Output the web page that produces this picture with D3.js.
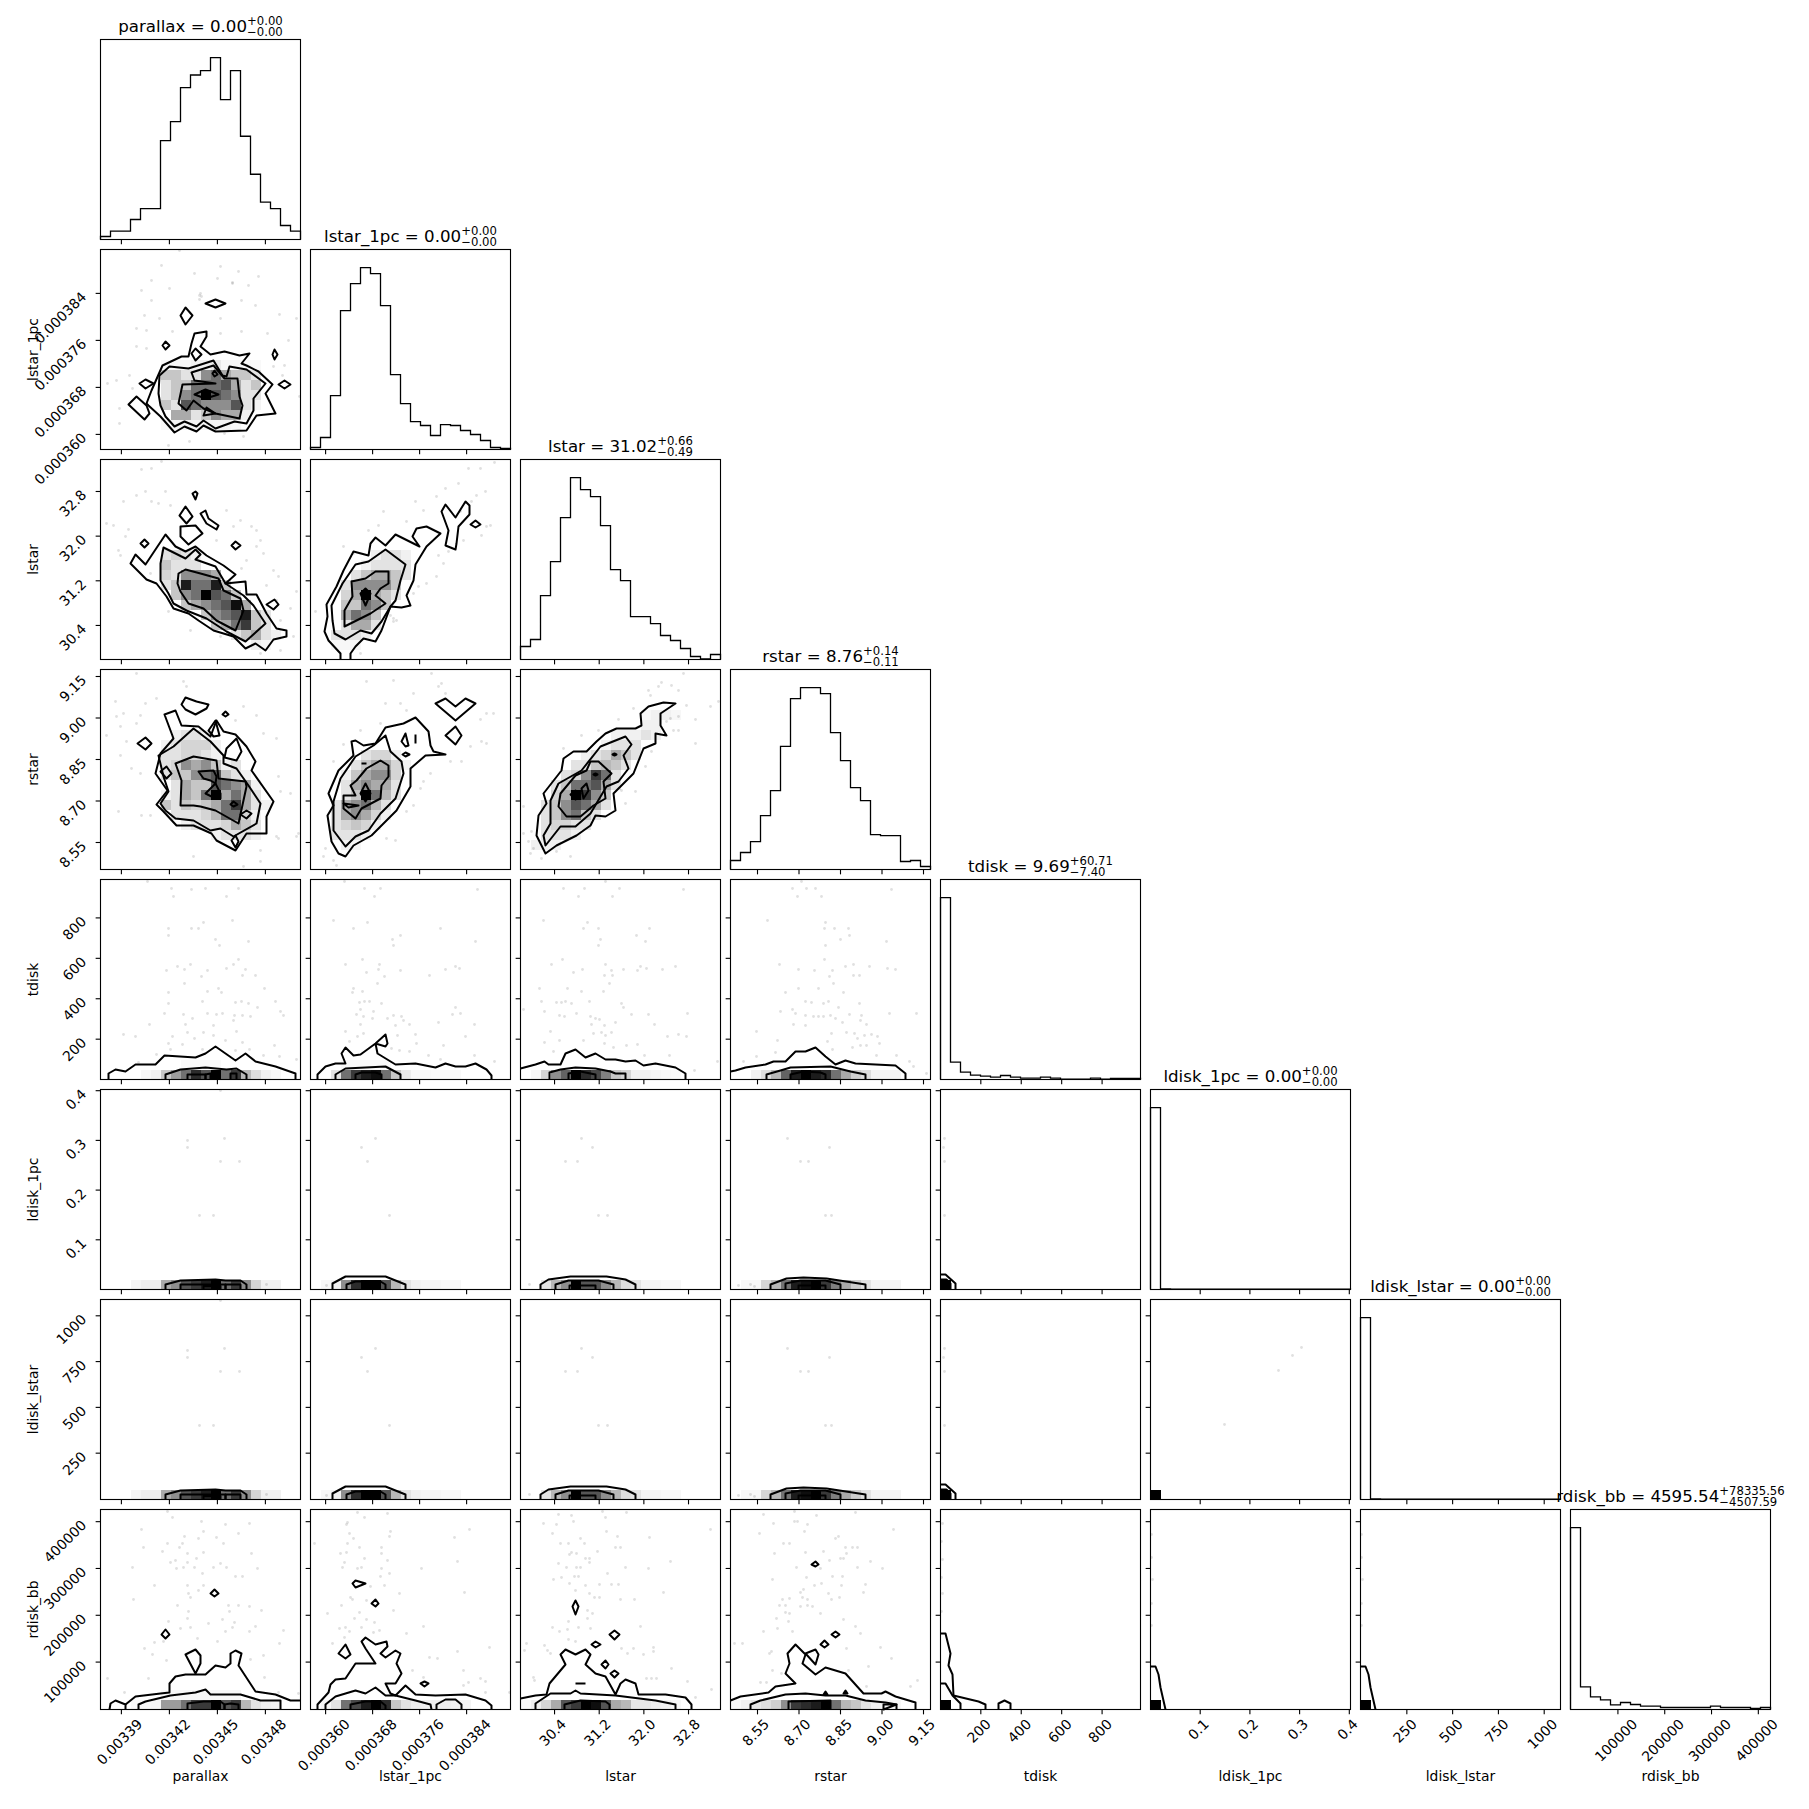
<!DOCTYPE html>
<html>
<head>
<meta charset="utf-8">
<script src="https://cdn.jsdelivr.net/npm/d3@7"></script>
<style>
  body { margin: 0; background: #fff; }
  text { font-family: "DejaVu Sans", sans-serif; fill: #000; }
</style>
</head>
<body>
<div id="chart"></div>
<script>
const names = ["parallax", "lstar_1pc", "lstar", "rstar", "tdisk", "ldisk_1pc", "ldisk_lstar", "rdisk_bb"];
const ranges = [
  [0.00337694, 0.00350194], [0.00035743, 0.00039147], [29.79, 33.373], [8.4524, 9.1753],
  [0.5, 990], [0, 0.4024], [-3, 1089], [-1300, 426000],
];
const tickValues = [
  [0.00339, 0.00342, 0.00345, 0.00348],
  [0.00036, 0.000368, 0.000376, 0.000384],
  [30.4, 31.2, 32.0, 32.8],
  [8.55, 8.7, 8.85, 9.0, 9.15],
  [200, 400, 600, 800],
  [0.1, 0.2, 0.3, 0.4],
  [250, 500, 750, 1000],
  [100000, 200000, 300000, 400000],
];
const tickLabels = [
  ["0.00339", "0.00342", "0.00345", "0.00348"],
  ["0.000360", "0.000368", "0.000376", "0.000384"],
  ["30.4", "31.2", "32.0", "32.8"],
  ["8.55", "8.70", "8.85", "9.00", "9.15"],
  ["200", "400", "600", "800"],
  ["0.1", "0.2", "0.3", "0.4"],
  ["250", "500", "750", "1000"],
  ["100000", "200000", "300000", "400000"],
];
const titleMedian = ["0.00", "0.00", "31.02", "8.76", "9.69", "0.00", "0.00", "4595.54"];
const titlePlus = ["0.00", "0.00", "0.66", "0.14", "60.71", "0.00", "0.00", "78335.56"];
const titleMinus = ["0.00", "0.00", "0.49", "0.11", "7.40", "0.00", "0.00", "4507.59"];

// diagonal histograms, 20 bins, heights
const histParallax = [9, 25, 25, 60, 93, 93, 297, 354, 456, 494, 507, 546, 420, 507, 310, 196, 112, 93, 42, 25];
const histLstar1pc = [6, 36, 162, 417, 498, 546, 528, 432, 225, 138, 84, 72, 42, 75, 72, 57, 45, 27, 6, 3];
const histLstar = [39, 60, 192, 294, 426, 546, 510, 489, 402, 270, 237, 129, 129, 108, 72, 57, 33, 9, 2, 15];
const histRstar = [27, 51, 84, 162, 237, 370, 513, 546, 546, 528, 411, 327, 246, 207, 105, 102, 102, 24, 27, 9];
const histTdisk = [546, 52, 22, 13, 10, 7, 12, 7, 4, 4, 7, 4, 1, 1, 1, 4, 1, 3, 3, 3];
const histLdisk1pc = [546, 2, 1, 1, 1, 1, 1, 1, 1, 1, 1, 1, 1, 1, 1, 1, 1, 1, 1, 1];
const histLdiskLstar = [546, 2, 1, 1, 1, 1, 1, 1, 1, 1, 1, 1, 1, 1, 1, 1, 1, 1, 1, 1];
const histRdisk = [546, 68, 38, 29, 14, 21, 15, 10, 10, 6, 6, 6, 6, 6, 10, 6, 6, 6, 3, 6];
const hists = [histParallax, histLstar1pc, histLstar, histRstar, histTdisk, histLdisk1pc, histLdiskLstar, histRdisk];

// 2d panels. everything below is in histogram bin units (0-20 along each axis):
// cells = [row, firstCol, [darkness 0-9, ...]], contours / points = flat x,y lists
const cells_1_0 = [[8,6,[.3,.3,.3,.5,.5,.8,.3,.3,.3,.2]],[7,6,[2,2,1,1,4,5,3,2,2,1]],[6,6,[1,2,2,5,5,5,6,3,1,2]],[5,6,[1,2,4,5,9,6,5,4,1,1]],[4,6,[2,1,6,5,4,4,4,6,1,.4]],[3,7,[3,3,1,2,4,3,3,.5]],[2,6,[.2,.4,.4,.4,.4,.4,.4,.3]]];
const contours_1_0 = [
  [4.6,4.6,5.1,5.9,6.2,8.4,8.1,9.3,8.8,9.3,9.1,10.6,9.4,11.6,10.6,11.8,10.6,11.3,10,10.3,11,9.5,12.4,9.8,13.9,9.4,14.9,9.6,14.1,8.6,14.6,8.4,15.8,7.8,17.2,6.5,16.5,5.6,17.5,3.6,15.6,3.4,14.6,1.9,11.5,1.8,10.3,2.4,9.6,1.8,8.4,2.3,7.4,1.7,6,3.3,4.8,4.4],
  [6,4.4,5.8,5.6,5.9,7.4,6.9,8.3,8.8,8.1,11.3,8.9,12.2,7.4,12.6,7.3,12.9,8.3,14.6,8,16.5,6.6,15.3,5.1,15.3,3.9,14.6,2.6,13.4,2.8,11.5,2.1,10.3,2.9,9.6,2.3,8.4,2.8,7.4,2.3,6.5,3.3],
  [7.8,4.6,8.2,6.5,11.5,6.6,9.4,6.9,9.1,7.7,11.3,8.4,12.4,7.1,13.7,7.1,13.9,5.3,14.2,4.4,13.9,3.1,11.5,3.6,10.3,4.1,9.3,4.9,8.6,3.9],
  [10.3,3.4,10.6,4.2,11.5,3.6],
  [9.4,5.5,10.5,6,11.8,5.5,10.5,5.1],
  [11.2,7.6,11.4,7.9,11.7,7.5,11.4,7.3],
  [10.5,14.6,11.5,15,12.5,14.6,11.5,14.2],
  [8,13.4,8.5,14.2,9.2,13.4,8.5,12.5],
  [6.2,10.4,6.5,10.8,6.9,10.4,6.5,10],
  [9.1,9.6,9.5,10.1,10.1,9.5,9.5,8.9],
  [17.2,9.5,17.4,10,17.7,9.5,17.4,9],
  [3.9,6.6,4.5,7,5.3,6.6,4.5,6.1],
  [17.8,6.5,18.4,6.9,19,6.5,18.4,6.1],
  [2.8,4.5,3.6,5.3,4.6,4.4,4.9,3.6,4.4,3],
];
const points_1_0 = [6.1,18.4,12,18.3,7.9,19.9,9.4,17.6,13.8,17.8,15.8,17.3,5.1,16.9,11.7,17.1,13.2,16.6,14.8,16.4,6.9,16.1,9.9,15.4,4.1,15.9,5.1,14.9,15.5,14.4,14.1,14.9,17.9,13.5,19.6,13.1,4.4,13.4,5.9,13.1,12,13.1,3.6,12.1,4.6,11.9,7.2,11.8,16.7,11.6,12,11.6,14.1,11.8,18.8,10.9,3.6,10.3,4.6,10.1,17.3,8.3,18.4,8.4,.7,6.6,1.6,6.9,2.9,7.4,3.2,6.1,1.9,4.1,1.9,2.6,18.2,7.4,19.9,5.3,6.8,.4,12.4,1.6,14.3,1.3,8.9,.8,10,15.6,10.1,15.3,13.2,16.7,9.9,15];

const cells_2_0 = [[10,6,[1,1.5,1,.5]],[9,6,[2,1,1,1]],[8,6,[1.5,1,4,4,4,3]],[7,6,[1,2,8,5,5,8,2]],[6,7,[2,4,5,9,6,5,2]],[5,8,[2,3,4,5,6,8.5,3]],[4,10,[2,4,5,6,8,2,1]],[3,11,[2,3,5,7,2,1]],[2,13,[1,2,3,1,.5]],[1,15,[.5,.3]]];
const contours_2_0 = [
  [3,9.6,3.5,10.5,4.5,9.5,6.5,12.5,7.5,11.3,8.5,10.8,9.5,11.3,10.6,10.4,12.3,9.4,13.5,8.5,12.5,7.6,14.5,7.8,14.6,6.5,15.6,6.5,16.6,4.6,17.6,3.1,18.6,2.9,18.6,2.3,17.3,2,16.5,.9,15.5,1.6,14.5,1.1,13.3,2.3,11.3,2.9,9.8,3.9,8.8,4.6,7.3,5.1,6.6,6.3,5.6,7.6,4.6,8],
  [6,9.6,6.3,11.2,8.5,10.1,9.5,11,10,10.5,9.5,10,11.5,9.3,12.5,7.6,14.3,6.4,15.3,5.4,16.5,3.6,14.5,1.8,12.6,2.8,10.6,4.1,8.6,4.9,7.3,5.6,6.8,6.6,6,7.9],
  [7.8,8.6,8.5,9,10,8.6,11.8,8.1,12.3,6.9,14,6.1,14.3,4.9,13.5,2.9,11.6,3.9,10.3,5.1,8.8,5.6,8,6.8,7.7,7.6],
  [9.2,16.6,9.5,16.8,9.7,16.6,9.5,16],
  [7.9,14.4,8.5,15.3,9.2,14.3,8.6,13.6],
  [10,14.6,10.5,14.9,10.8,14.1,11.8,13.4,11.6,13,10.6,13.6],
  [8,13.3,9.5,13.4,10.2,12.6,8.8,11.5,8,12.3],
  [4,11.6,4.4,12,4.8,11.6,4.4,11.2],
  [13.1,11.4,13.5,11.8,14,11.4,13.5,11],
  [16.6,5.5,17.4,6,17.8,5.5,17.3,5],
];
const points_2_0 = [4.1,19,5.1,19.1,6.1,19.8,3.6,16.4,4.5,16.8,6.5,16.8,2.3,15.8,5.8,15.6,5.1,15.8,7,15.4,.6,13.6,1.3,13.4,2.8,13,2.5,12.3,1.8,10.9,2,10.4,12.6,14.9,14,13.9,13.3,13.3,15.1,13.3,15.6,12.9,16,11.9,15.6,11.3,16.3,10.6,14.1,9.1,16.6,7.4,17.3,8.9,17.8,8.3,19.6,6.8,14.6,9.9,11.6,11.9,9,2.9,6.8,4.8,12,2.3,16,.6,18,.9,19,5.1,19.3,2.3,17.6,5.9,5,8.6,18,3.9];

const cells_2_1 = [[10,6,[.5,1,1,.5]],[9,5,[.5,1,1,1,1]],[8,4,[1,2,3,3,2,1]],[7,3,[1,4,4,4,4,2]],[6,3,[1.5,3,9,3,2,1]],[5,3,[2,2,5,4,2]],[4,3,[3,5,4,2]],[3,3,[1,3,3,1]],[2,2,[1,1,1,.5]],[1,2,[.3,.3,.3]]];
const contours_2_1 = [
  [3,0,3,.6,1.8,1.9,1.4,2.8,1.7,4.3,1.6,5.5,2.6,7.3,3.3,8.9,4.3,10.8,5.8,10.4,6,11.6,6.5,12.2,7.5,11.4,8.5,12.5,10.9,11.3,10.2,12.3,10.6,13.1,11.6,13.3,13,12.6,11.6,11.3,10.5,9.5,10.3,7.9,9.6,6.4,10,5.4,9.1,5.2,8,5.3,7.1,2.9,6.5,1.8,5.3,2.1,4.5,1.3,4,.6,4,0],
  [2.2,3.9,2.1,5.4,3.2,7.6,4.5,9.5,5.8,9.8,7.5,11,9.5,9.5,9,7.9,8.5,5.9,8,5.3,7.1,3.8,6.1,2.6,5,2.9,3.5,2,2.4,2.6],
  [3.4,4.9,4.2,6.3,4.1,7.8,5.5,8.1,6.5,8.8,7.8,8.8,7.8,7.6,7,7.1,6.5,6.4,7.5,5.6,6,4.6,3.4,3.3],
  [5.5,7.1,5,6.6,5.5,5.4,6,6.6],
  [13.1,14.8,13.5,15.5,14.5,14.2,15.5,15.8,15.9,15.4,15.9,14.5,14.8,13.3,14.6,11.6,14.5,11,13.5,11.4,13.8,12.9],
  [16,13.5,16.5,13.9,17,13.5,16.5,13.2],
];
const points_2_1 = [18.4,19.7,17,19.1,15.8,19.1,14.8,17.6,17.5,16.8,16.6,16.4,16.1,15.8,13.5,17.1,10.5,15.8,12.6,16.3,11.3,14.9,7.3,14.8,9.6,13.8,6.8,13.4,5.8,12.9,15,14.8,17.6,13.3,17.1,12.4,18,13.4,15.3,11.9,13.8,10.8,12.8,10.4,13.3,9.6,12.6,8.3,11.6,7.6,10.8,7.3,10.3,6.6,3.3,11.3,4.3,10.6,.5,4.8,8.3,4.1,8,4.4,5,.6,8.6,3.9,8.3,3.8];

const cells_3_0 = [[13,7,[.5,1,1,.5]],[12,6,[.5,1,1.5,1.5,1.5,.5]],[11,6,[1,1,1.5,1.5,1,.5]],[10,6,[1,1.5,4,3,4,2,.5,1]],[9,6,[1,2,2,4,5,6,2,1,.5]],[8,7,[1,3,2,2,6,5,4,3,.5]],[7,6,[.5,1,3,2,5,9,3,5,3,1]],[6,6,[2,1,2,1.5,2,3,5,7,3,1,.5]],[5,7,[1,1,1,1.5,2.5,5,5,1.5,.5]],[4,8,[.5,1,1,1,1.5,3,2,1]],[3,11,[.5,1,1,1,.5]]];
const contours_3_0 = [
  [6.4,15.5,7.5,15.9,8.1,14.4,9.8,14.3,11,13.3,11.6,14.9,12.3,13.8,13.5,13.5,14.6,12.3,15.5,10.8,15.1,9.9,17.3,6.8,16.6,5.3,16.6,3.6,14.6,3.6,13.5,1.9,11.6,2.9,11.1,3.6,9.3,4.4,7.6,4.4,6.3,5.8,5.6,6.5,6.7,7.9,5.5,9.6,6,11.6,7.3,13.1],
  [6,6.6,6.8,7.8,6.3,9.3,5.8,11.4,7.3,12.3,9.3,14.1,11,12.8,12.3,11.4,12.3,10.6,13.6,10.1,14.8,8.4,16,6.6,15.6,4.6,13.3,3.3,12,4.1,11,3.9,9.3,4.9,7.5,5.1,6.5,5.9],
  [7.5,10.6,9.3,11.3,11.6,10.9,11.8,9.1,14.5,8.8,14.6,8.3,13.8,4.6,11.5,5.9,10,6.3,9.3,6.4,8,6.4,8.1,8.9],
  [9.8,9.8,11.3,9.9,11.6,9.3,11.5,8.6,11,8.9,10.3,9.1],
  [10.5,7.6,11.5,8.6,12,7.6,12,7.1,11.5,7.1],
  [13,6.5,13.3,6.8,13.7,6.5,13.3,6.3],
  [8.1,16.5,8.5,17.2,9.6,16.8,10.8,16.5,10.6,16.1,9.5,15.5,8.5,16],
  [12.2,15.5,12.5,15.8,12.8,15.5,12.5,15.3],
  [3.7,12.6,4.5,13.2,5.1,12.6,4.5,12],
  [10.8,13.9,11.5,14.9,11.9,13.4,11.3,13.3],
  [12.6,12.1,13.6,13.1,14.1,11.8,13.6,10.9,12.4,11.2],
  [6,9.8,6.6,10.3,7.1,9.6,6.6,9.1],
  [14,5.5,14.6,5.9,15.1,5.6,14.6,5.1],
  [13.1,2.9,13.5,3.4,13.8,2.8,13.5,2.2],
];
const points_3_0 = [3.6,19.6,8.3,18.8,8.6,18.3,5.6,17.1,4.5,16.6,1.5,16.8,2.3,15.6,4,15.4,1.6,15.3,2,14.3,3.6,14.6,.6,13.4,2.6,12.8,2,11.4,3.1,10.1,4,9.6,4.1,5.4,5,5.4,1.8,5.8,14.3,16.3,13.5,14.9,15.6,15.4,16.3,13.6,17.6,13.1,17.8,9.3,18,7.8,19,7.6,17.6,3.3,17.8,3.1,19.6,3.3,16,1.9,9.3,1.3,16,.8,14.3,.3,19.8,3.6];

const cells_3_1 = [[11,5,[1,1.5,1.5,.5]],[10,4,[1,2,3,3,1.5,.5]],[9,3,[.5,2,3,4,4,1.5]],[8,3,[1,3,4,3,3,1]],[7,3,[1,2,9,5,2.5,1]],[6,2,[1,3,4,5,2.5,1]],[5,2,[1,3,4,3,1.5,.5]],[4,2,[1,1.5,2,1.5,.5]],[3,2,[1,1,1,.5]],[2,3,[.5,.3]]];
const contours_3_1 = [
  [1.8,7.6,2.8,9.9,4.3,11.4,4.1,12.8,4.5,12.9,5.3,12.4,6.5,12.6,7.5,14.2,9.3,14.6,10.5,15.2,11.8,13.8,12,12.4,12.3,11.8,13.5,11.5,11.5,11.4,10,10.1,10,8.3,8.6,5.9,7.3,4.6,6.1,3.4,4.3,2.4,3.5,1.3,2.8,1.6,2.1,2.8,1.7,5.4,2.3,6.4],
  [2.3,6.8,3,9.1,4.5,11.3,6.3,12.4,7.5,13.4,8,11.8,9.1,10.8,9.3,9.6,8.5,7.1,7,5.6,5.8,3.9,4.5,3.3,3.5,2.3,2.3,3.9],
  [4,8.4,4.6,8.9,5.6,10.1,7,10.9,7.8,10.4,7.8,9.3,7.1,8.4,7,7.1,5.1,6.1,4.5,5.1,3.3,6.1,3.3,7.4,4.5,7.4],
  [3.3,6.6,4.8,6.4,3.8,6.2],
  [5.5,8.6,6,7.6,5.5,6.8,5,7.6],
  [12.5,16.6,13.5,17.1,14.5,16.3,15.5,17.1,16.5,16.6,14.5,14.9],
  [13.5,13.4,14.5,14.3,15.1,13.4,14.5,12.5],
  [9.1,12.8,9.5,13.6,9.8,12.4,9.5,12.3],
  [10.5,13.5,10.5,12.6],
  [9.2,11.5,9.5,11.7,9.9,11.5,9.5,11.3],
  [5.1,10.6,5.6,10.6],
];
const points_3_1 = [5.6,18.8,8.3,18.9,12.1,19.6,12.8,18.3,13.1,18.6,10.3,17.6,13.5,17.6,7.5,16.6,9,16.6,9.6,15.9,17.6,15.6,17,15,18.3,15.6,16,12.3,17.1,12.8,17.6,12.6,14,10.8,15.1,10.8,7,14.6,5,13.9,3.3,12.5,2.3,10.8,12,9.6,11.3,8.8,11,8.1,10.3,6.4,9.6,5.8,1.5,2.1,1.3,1.3,2.3,.9,2.6,.4,7.6,3.1,8.5,2.9];

const cells_3_2 = [[15,12,[.3,.5,.5,.3]],[14,12,[.5,.5]],[13,9,[.5,.5,.5,1,.5]],[12,8,[.5,1,1,1]],[11,6,[.5,1,1.5,3,2,1]],[10,5,[1,1,2,2.5,2,1]],[9,4,[1,1.5,4,7,5,1]],[8,3,[1,2,5,5,6,3,1]],[7,3,[1.5,3,9,7,4,2]],[6,2,[1,2,4,6,5,3,1]],[5,2,[1,2,4,5,2,1]],[4,2,[1,1.5,1.5,1,1]],[3,2,[1,1,1,.5]],[2,1,[.5,.5,.5]]];
const contours_3_2 = [
  [15.5,16.6,14.3,16.7,12.8,16.3,12,15.6,12.1,14.4,11.5,14.1,9.6,14.1,8.5,13.6,7.6,12.8,6.6,11.8,5.3,11.8,4.3,11.1,4.1,9.9,2.3,7.6,2.6,6.6,1.8,5.4,1.6,3.4,2.5,1.6,3.6,2.4,5.6,3.4,7,4.4,7.5,5.4,8.5,5.3,9.5,5.9,9.3,7.6,11.3,9.6,12.3,12.1,13.5,12.6,13.5,13.6,14.6,13.4,14,14.4,14,15.6],
  [3,4.6,3,6.9,3.8,8.6,6.1,9.9,8,12.3,10.5,13.3,11.1,12.5,10.3,11.4,10.8,10.1,9.8,8.8,8.6,8.3,7,5.6,5.5,4.3,4,4.3,2.5,2.4,2.3,3.4],
  [4,7.6,5.5,9.4,6.6,9.9,7,10.8,7.8,10.8,9.1,9.6,8.3,8.8,8.5,7.1,7.3,6.4,6,5.3,4.6,5.3,3.8,6.3],
  [5,7.5,5.5,7.9,6,7.6,5.5,7],
  [6.1,8.1,6.6,8.6,6.8,7.9,6.3,7.1],
  [9.2,11.5,9.4,11.6,9.6,11.5,9.4,11.4],
  [7.3,9.5,7.5,9.6,7.7,9.5,7.5,9.4],
];
const points_3_2 = [16.3,19.6,14.1,18.7,15.1,18.4,12.8,17.9,15.8,17.9,13.8,18.3,13,17.4,16.6,16.4,15.8,15.3,15,15.1,17.5,15,19,16.3,19.8,16.8,15.3,13.9,15.8,13.9,17.5,12.6,14.6,14.8,11.3,16.1,9.8,15,7.8,13.9,6.1,13.4,4.3,12.1,13.1,11.8,12.5,10.3,11.5,7.8,10.5,6.6,10.1,7.9,.3,6.3,1.1,3.8,.8,2.8,1.3,2.1,.3,3.6,1,1.6,5,1.3,3.6,1.8,2.1,1.1];

const cells_4_0 = [[1,8,[.2,.2,.2,.2]],[0,4,[.3,.5,2,3.5,5,7.5,6,9,5,7,2.5,1.2,.5,.3]]];
const contours_4_0 = [
  [.8,0,.8,.6,1.5,1,2.5,.8,3.5,1.5,5.5,1.5,6.4,2.4,9.5,2.2,10.5,2.6,11.5,3.3,13.5,1.9,14.5,2.6,15.5,1.8,17.5,1.3,19.5,.6,19.5,0],
  [6.5,0,6.5,.5,8,1,10.5,1.2,12.6,1,13.6,1.1,14.6,.5,14.6,0],
  [8.7,0,8.7,.5,10.5,.5,10.5,0],
  [10.5,0,10.5,.5,11,.6,11,0],
  [13,0,13,.6,13.6,.6,13.6,0],
];
const points_4_0 = [4.7,19.8,7.1,19.1,9.1,19,10.5,19.1,13.8,19.1,7.3,18.3,12.6,18.3,13.2,15.9,10.3,15.7,6.8,15.1,9.1,15.1,9.8,15.1,6.8,14.4,11.5,14,11.9,13.4,14.8,13.8,13.8,12,13.3,11.5,12.6,11.1,6.6,10.9,7.7,11.3,8.4,11,9,11.5,10.7,10.9,14.5,11,10.1,10.3,14.2,10.4,15.5,10.4,8.4,9.6,16.4,9.1,6.8,8.7,10.7,8.8,11.8,9.1,12.1,8.7,6.8,7.6,10.2,7.8,13.5,7.7,14.1,7.8,14.8,7.6,15.7,7.2,17.5,7.8,18,6.8,18.3,6.4,6.4,6.6,8.3,6.5,10.7,6.6,11.6,6.5,12.2,6.6,13.4,6.4,14.2,6.4,15,6.3,9.2,6.1,13.3,5.9,4.9,5.5,8.5,5.5,11.3,5.4,2.3,4.5,3.5,4.3,8.7,4.7,10.3,4.7,13.6,4.8,7.2,4.3,9.4,4.1,11.3,4.4,12.5,3.9,14.2,3.7,17.4,3.4,6.8,3.6,8.2,3.5,7,3,10.2,3,13.5,2.9,14.9,3,5.6,2.5,16.3,2.4,17.9,2.3,19.6,2,3.8,1.7];

const cells_4_1 = [[1,3,[.2,.2,.2,.2,.2]],[0,2,[1,5,7,8,8.5,5,2,.7,.3,.3,.2,.2,.2]]];
const contours_4_1 = [
  [.7,0,.7,.5,1.5,1.3,2.5,1.6,3.5,1.6,3.1,2.6,3.5,3.2,4.3,2.4,5,2.5,6.5,3.6,7.5,4.5,7.7,3.6,7.5,3.3,6.5,3.6,6.7,2.6,8.5,1.5,10.5,1.6,12.5,1.2,13.5,1.6,14.5,1.3,15.5,1.3,16.5,1.6,17.6,1,18.1,.4,18.1,0],
  [2.5,0,2.5,.5,3.5,1.1,7.5,1.3,9,.5,9,0],
  [4.5,0,4.5,.5,5.1,.7,6.5,.7,7.1,.5,7.1,0],
];
const points_4_1 = [3.4,19.8,5.4,19.1,7,19.1,6.4,18.3,16.7,19,2.3,15.9,5.7,15.7,4.3,15.1,13,15.1,9,14.4,8.2,14,8.3,13.4,16.5,13.8,5.2,12,3.5,11.5,6.9,11.5,6.8,11,9,10.9,5.6,10.7,7.4,10.3,11.9,10.4,13.5,11,14.5,11.3,14.9,11.1,4.3,9.1,4.2,8.7,5.2,8.8,6.7,9.6,4.9,7.7,5.4,7.8,5.9,7.8,7.1,7.6,5,7,14.5,7.2,4.6,6.5,5.3,6.3,6.3,6.8,6.2,6.1,7.7,6.1,8.3,6.4,9.1,6.3,9.3,5.9,14.2,6.5,15,6.6,5,5.5,8.5,5.4,9.9,5.5,12.8,5.7,16.4,5.5,3.5,4.8,5.3,4.6,4.7,4.3,8.7,4.4,10.5,4.5,15.5,4.3,3.9,3.8,8.1,3.1,10.6,3.6,13.3,3.4,8.9,2.9,9.9,2.8,11.8,2.4,16.4,2.4,13,2,18.4,1.8];

const cells_4_2 = [[0,1,[.3,1.5,4,5.5,9,7.5,6.5,4.5,2,1.5,.5,.5,.4,.3,.2]]];
const contours_4_2 = [
  [0,1.1,1.5,1.5,2.4,1.8,2.8,1.5,4,1.5,4.5,2.6,5.5,3,6.5,2.2,7.5,2.6,8.5,2,9.5,2,10.5,1.8,11.5,1.9,12.3,1.4,13.5,1.6,15.5,1.2,16.5,.6,16.5,0],
  [2.9,0,2.9,.7,4,1,5.5,1.2,7.5,1.1,9,.8,9.5,.6,10.5,.6,10.5,0],
  [4.8,0,4.8,.6,6,.8,7.5,.5,7.5,0],
];
const points_4_2 = [4.3,19.1,6.4,19.1,9.9,19.1,8.5,19.8,16.3,19,5.8,18.3,9.2,18.3,2.3,15.9,6.7,15.7,6.3,15.1,7.8,15.1,12.9,15.1,11.6,14.4,8,14,7.8,13.4,12.5,13.8,4.2,12,3.1,11.5,8.5,11.5,6.2,11,5.3,10.7,9.1,10.9,10.3,11,11.7,10.9,12,11.3,12.6,11.1,14.2,11,15.5,11.3,8.4,10.4,9.2,10.4,1.9,9.1,4.7,9.1,6.1,8.8,8.3,8.8,8.9,9.6,2.1,7.8,3.6,7.7,4.1,7.7,4.5,7.8,5.1,7.6,6.9,7.8,10.1,7.6,10.3,7.2,.3,7,2.4,6.8,3.9,6.4,4.4,6.3,5.6,6.6,7,6.3,7.5,6.1,7.9,6,11.1,6.5,12.8,6.5,16.7,6.6,7.1,5.5,8.4,5.4,9.5,5.7,13.4,5.5,3,4.8,7.3,4.6,8.1,4.7,9.1,4.7,8.5,4.4,14.7,4.3,15.8,4.5,16.6,4.3,2.4,3.7,3.9,3.9,6.3,3.9,8.4,3.6,10.6,3.4,11.7,3.5,9.3,3.2,3.3,2.8,12.4,2.4,14.9,2.4,19.7,1.8,17.4,.9];

const cells_4_3 = [[0,2,[.5,1.2,2.5,5.5,8,9,8,7.5,5,3,1.7,1.2,.4,.4,.4]]];
const contours_4_3 = [
  [0,.8,.5,.9,1.5,1.2,3.5,1.5,4.3,1.8,5.5,1.8,6.5,2.8,7.5,2.8,8.5,3.2,9.5,2.3,10.5,1.5,11.5,1.9,12.5,1.6,16.5,1.4,17.5,.6,17.5,0],
  [3.6,0,3.6,.5,5,.9,6,1.2,10,1.3,12,.8,13.5,.5,13.5,0],
  [6,0,6,.5,7.3,.8,9,.7,9.5,.5,9.5,0],
];
const points_4_3 = [6.2,19.1,7.6,19.1,8.5,19.1,7.1,19.8,6.7,18.3,9.1,18.3,16.1,19,3.7,15.9,9.5,15.7,9.4,15.1,10.4,15.1,11.8,15.1,11.9,14.4,11,14,9.5,13.4,15.6,13.8,9.4,12,4.9,11.5,12.3,11.5,11.5,11.3,13.9,11.3,6.8,11,8.4,10.9,10.2,10.9,15.7,11.1,16.5,11,9.9,10.3,12.3,10.4,12.9,10.4,10.3,9.6,6.8,9.1,8.8,9.1,5.5,8.7,11.3,8.7,7.5,7.8,8.1,7.7,9.3,7.6,9.8,7.8,12.9,7.6,10.8,7.2,6.2,7,5,6.8,6.5,6.6,7.5,6.4,8.3,6.3,8.8,6.3,9.3,6.3,10,6.4,10.5,6.1,11.9,6.5,13.1,6.4,15.9,6.6,18.6,6.6,6.3,5.5,7.5,5.4,11.2,5.7,13,5.9,13.6,5.5,2.6,4.8,10.1,4.6,11.6,4.7,12.4,4.6,13.4,4.4,14.1,4.5,14.7,4.3,12.7,4.1,4.7,3.9,9.7,3.8,14.9,3.6,13,3.4,13.6,3.4,10.2,3,12.2,3.2,16.6,2.4,14.6,2.4,4.5,2.7,2.6,2.3,17.9,1.8,18.3,1.3,19.6,.6,1.3,1.8];

// the two ldisk rows look the same, so they share one set of arrays
const cells_5_0 = [[0,3,[.4,.6,.6,3,4,6,7,8,9,5,7,4,1.5,.5,.5]]];
const contours_5_0 = [
  [6.5,0,6.5,.5,8,.9,11.5,1,12.5,.9,14,.9,14.6,.5,14.6,0],
  [8,0,8,.5,12.5,.5,12.5,0],
  [12.5,0,12.5,.5,14,.5,14,0],
  [10.3,0,10.3,.35,12,.35,12,0],
];
const points_5_0 = [12,19.9,8.7,14.9,12.4,15.1,8.7,14.2,12,12.8,13.9,12.8,9.9,7.4,11.3,7.4,16.6,.5];
const cells_5_1 = [[0,1,[.3,.5,4,7.5,9,9,6,2.5,1,.5,.4,.4,.3,.3]]];
const contours_5_1 = [
  [2.2,0,2.2,.6,3.5,1.3,7.5,1.3,9.5,.5,9.5,0],
  [3.6,0,3.6,.5,4.5,.8,7,.8,7.5,.5,7.5,0],
];
const points_5_1 = [6.5,15.1,5.1,14.2,5.7,12.8,7.9,7.4,1.6,.4];
const cells_5_2 = [[0,2,[1,2.5,4,9,6,6,4,2.5,1.2,1,.4,.4,.3,.3]]];
const contours_5_2 = [
  [2,0,2,.5,2.8,1,5,1.3,8.6,1.3,10.5,1,11.5,.5,11.5,0],
  [3.5,0,3.5,.5,4.8,.9,7.8,.9,9.3,.5,9.3,0],
  [4.9,0,4.9,.4,7.5,.4,7.5,0],
];
const points_5_2 = [6.1,15.1,7.2,14.2,4.5,12.8,5.7,12.8,7.8,7.4,8.7,7.4,.9,.5];
const cells_5_3 = [[0,1,[.3,.3,1.5,2.5,5,8,8.5,9,7,4.5,3,1.8,1,.4,.4,.4]]];
const contours_5_3 = [
  [4,0,4,.5,5.6,1.1,7.3,1.2,9.6,1.1,13.5,.5,13.5,0],
  [5.5,0,5.5,.6,7,.9,9.5,.9,11,.5,11,0],
  [6.8,0,6.8,.4,9.5,.4,9.5,0],
];
const points_5_3 = [5.7,15.1,9.9,14.2,7,12.8,7.8,12.8,9.5,7.4,10.1,7.4,.8,.4,2,.5,2.4,.3];
const cells_5_4 = [[0,0,[9]]];
const contours_5_4 = [[0,1.5,.5,1.5,1.5,.6,1.5,0], [0,1,.6,1,1,.6,1,0]];
const points_5_4 = [.4,15.1,.3,14.2,.4,12.8,.4,7.4];
const cells_6_5 = [[0,0,[9]]];
const points_6_5 = [15.1,15.2,14.2,14.4,12.8,12.9,7.4,7.5];

const cells_7_0 = [[1,6,[.2,.3,.3,.3,.3,.3,.3,.3]],[0,3,[.2,.2,.3,3.5,3.5,5,7,7,9,6,7,2.5,1,.6,.5]]];
const contours_7_0 = [
  [.9,0,1,.6,1.5,.9,2.5,.5,2.5,0],
  [2.5,.5,3.5,1.3,6,1.6,6.9,1.7,6.9,2.6,7.5,3.3,8.5,3.5,10.5,3.5,11.5,4.4,12.5,4.2,13,4.6,13,5.6,13.5,5.9,14.1,5.6,13.8,4.4,15.5,1.8,17.5,1.5,19,.9,20,.9],
  [3.8,0,3.8,.5,4.5,.8,7,1.4,9.5,1.7,10.5,2,11,1.5,14,1.5,16,.9,18,.9,18,0],
  [8.7,0,8.7,.6,10.3,.8,12,.8,12.4,.5,12.4,0],
  [12.4,0,12.4,.5,13,.6,13.8,.5,13.8,0],
  [8.5,5.5,9.5,6,10,5.4,10,4.6,9.5,3.6],
  [6.1,7.5,6.5,8,6.9,7.5,6.5,7.1],
  [11,11.6,11.4,12,11.8,11.6,11.4,11.3],
];
const points_7_0 = [6.7,19.8,7.2,19.2,10.1,18.8,12.5,18.5,14.9,18.6,4.1,18,10.3,17.8,13.8,17.6,8.4,17.3,11.6,17.2,9.8,17.1,6.7,16.6,8.2,16.6,12.3,16.6,4.3,16.2,7.9,16.2,6.2,15.8,8.7,15.6,10.3,15.7,15.1,15.6,9.6,15.1,7.5,14.9,7,14.7,8.7,14.7,12,14.6,3.2,14.2,7.6,14.1,8.3,14.2,9.4,14.2,11.3,14.2,12.6,14.2,15.7,14.1,10.2,13.6,13.5,13.3,14.2,13.3,5.4,12.4,8.7,12.4,10.3,12.4,8.8,11.6,9.8,11.9,3.3,11,9,11.2,12.8,10.4,13.8,10.4,7.7,10.4,8.8,9.8,12.9,9.8,14.9,10.3,16.1,9.9,6.8,8.8,8.7,9.1,12.2,9,13.4,8.7,10.8,8.6,8,8.1,9,8.2,13.2,8.2,15.5,8.3,18.3,7.9,12.5,7.8,14.9,7.8,9.7,7.1,11.7,6.8,17.9,6.6,4.4,6.1,5.4,6.7,6.3,6.8,15,5,16.3,5.4,5.2,5.5,6.6,4.9,.7,3.1,4.8,3.1,16.4,3.2,2.4,1.7,17.8,1.7,19.8,1.6];

const cells_7_1 = [[0,1,[.3,1,5,6.5,8,9,7.5,2,1,.6,.5,.6,.6,.5,.4]]];
const contours_7_1 = [
  [.7,0,.7,.5,1.8,1.7,2,2.5,2.5,3,3.5,3.1,4.5,4.6,6.5,4.6,5.5,6.1,5.1,6.8,5.5,7.2,6.5,6.5,7.6,6.8,7.7,6.3,7,5.6,7.5,5.2,8.5,5.9,9,5.6,8.6,4.6,9.1,3.6,8.5,2.6,7.5,2.6,8,1.6,8.5,1.4,9.5,2.4,10.5,1.5,12.5,1.4,15.5,1.5,17.5,.9,18.1,.4,18.1,0],
  [1.5,0,1.5,.5,2.5,1.3,4.5,1.9,5.5,1.6,6.5,2.2,7.5,1.4,8.5,1.4,10.5,.9,12,.5,12.1,0],
  [12.6,0,12.6,.5,13.5,1,14.5,1,15.1,.5,15.1,0],
  [4,0,4,.5,5.5,.8,7,.8,7.5,.4,7.5,0],
  [2.8,5.6,3.5,6.5,4,5.5,3.5,5.1],
  [4.2,12.6,4.5,12.9,5.5,12.6,4.5,12.2],
  [6.1,10.6,6.5,11,6.8,10.6,6.5,10.3],
  [11,2.6,11.4,2.8,11.8,2.6,11.4,2.3],
];
const points_7_1 = [4.7,19.7,7.7,19.6,5.4,19.2,3.7,18.7,3.6,18.5,8,17.8,3.9,17.6,7.9,17.3,14.4,17.2,15.9,18,4.3,17.1,.4,16.6,3.7,16.6,4.9,16.2,7.1,16.2,3,15.6,3.6,15.7,5.4,15.1,7.1,15.6,3.4,14.7,7.7,14.9,14.7,14.8,3.2,14.2,4.7,14.1,5.1,14.2,7.1,14.1,11.1,14.1,7.9,13.6,7,13.3,6,12.3,7.4,12.4,15.4,11.7,4,11.2,4.2,11,8.9,11.6,5.6,10.9,4.9,9.7,8.3,9.9,1.7,9.6,3.1,10.4,4.4,9.1,5.6,9,6.4,8.7,2.9,8.1,3.5,8.2,5.1,8.2,6.9,7.9,6.3,7.7,9.6,7.6,11.3,8.3,3.9,7.8,3.4,7.2,2.2,6.6,17.9,6.2,14.7,5.8,8.7,5.7,11.9,5.2,12.7,5.1,10.2,3.9,15.3,3.9,11.3,3.2,17,3.1,17.5,2.8,15.3,2.4,15.8,2.7,17.5,1.7,19.9,1.7];

const cells_7_2 = [[0,0,[.2,.6,1.5,3,6,7,9,8.5,6,3,2.5,.8,.8,.6,.5,.3]]];
const contours_7_2 = [
  [0,1.1,1.5,1.4,2.6,1.5,2.9,2.6,4.5,4.5,4,5.5,4.5,6,5.5,5.5,6.5,6,7,5.5,6.5,4.5,7.5,3.6,8.5,3.3,9.5,1.5,10,2.6,10.5,3,11.5,2.6,11.8,1.5,14.5,1.5,16.5,1.2,17.1,.5,17.1,0],
  [1.5,0,1.5,.6,3,1.6,5,1.6,5.5,1.9,6,1.6,9.5,1.4,13.5,.9,15.5,.5,15.5,0],
  [4.4,0,4.4,.5,6,.9,8.5,.8,8.9,.5,8.9,0],
  [5.2,10.3,5.5,10.9,5.8,10.3,5.5,9.5],
  [7.1,6.5,7.5,6.8,8,6.5,7.5,6.2],
  [8.9,7.5,9.4,7.9,9.9,7.5,9.4,7],
  [8.1,4.5,8.5,4.9,8.8,4.5,8.5,4.1],
  [9,3.6,9.4,3.9,9.8,3.6,9.4,3.2],
  [5.5,2.6,6.5,2.6],
];
const points_7_2 = [3.8,19.5,5.1,19.4,8.2,19.8,10.6,19.7,8.5,19.2,5.3,18.8,2.3,18.6,3.6,18.5,19,18,8.6,17.8,3.2,17.6,9.7,17.3,12.9,17.2,6,17.1,4,16.6,4.8,16.6,6.4,16.6,9.5,16.2,10,16.2,7.7,15.8,5.1,15.7,5.6,15.6,4.9,15.5,6.5,15.1,6.9,15.1,3.8,14.6,6.9,14.7,15,14.8,4.6,14.2,5.6,14.2,6,14.2,10.5,14.2,12.8,14.1,8.7,13.6,3.3,13,4.1,13.2,5.4,13.3,5.8,13.3,4.9,12.6,6.5,12.4,7.9,12.5,9.1,12.5,9.8,12.5,14.3,11.7,5.5,11.9,6.9,11.6,7.4,11.2,7.9,11.2,10,11,11.4,11,6.7,9.9,7.2,9.6,6.7,9.1,4.8,8.8,3.2,8.2,4.7,8,5.8,8.2,7,8.1,3.9,7.8,12,8.3,4.8,7,5.5,6.8,.6,6.6,2.4,6.4,.4,5.9,2.7,5.9,3,5.6,10.1,6.1,11.3,6.1,13.3,6.2,10.7,5.6,12.3,5.5,13.3,5.8,15.1,4.1,1.3,3.2,1.4,2.9,12.6,3.1,13.1,3.1,13.6,3.1,16.7,2.8,19.1,2,17.5,1.2];

const cells_7_3 = [[0,0,[.2,.5,.8,1.2,1.7,4,7,7.5,8,9,5,2.5,2,1,.5,.4,.3]]];
const contours_7_3 = [
  [0,.9,1,1.3,3.8,1.7,4.5,2.3,6.5,2.6,5.5,3.6,5.9,4.6,5.7,5.6,6.5,6.5,7.5,5.5,7.2,4.6,8.5,3.5,9.5,4.2,11.5,3.6,13.3,1.6,15.1,1.6,15.5,1.8,16.5,1.3,18.5,.7,18.5,0],
  [7.5,5.6,8.5,6,8.8,5.5,8.5,4.5],
  [2,0,2,.5,3,.9,5.5,1.5,7.5,1.6,9.5,1.4,11.5,1.4,13.5,.9,15.5,.7,16.6,.5,16.6,0],
  [15.3,0,15.3,.5,16.6,.5],
  [5.8,0,5.8,.8,10,.9,10,0],
  [9.3,1.5,9.5,1.8,9.7,1.5],
  [11.3,1.6,11.5,1.9,11.7,1.6],
  [8.1,14.5,8.5,14.8,8.8,14.5,8.5,14.3],
  [9,6.5,9.4,6.9,9.8,6.5,9.4,6.2],
  [10.1,7.5,10.5,7.8,10.9,7.5,10.5,7.2],
];
const points_7_3 = [3.3,19.5,6.4,19.8,6.7,18.8,12.5,19.7,8.6,19.4,4.3,18.6,6.4,18.8,7.7,18.5,7.4,17.8,2.9,17.6,16.3,18,10.8,17.3,10.5,17.1,5.3,16.6,5.9,16.6,11.5,16.2,12.2,16.2,12.7,16.2,4.4,15.6,7.5,15.7,11.6,15.6,9.3,15.8,11,15.1,11.3,15.1,9.9,14.9,14,14.8,6.6,14.2,9,14.1,12.7,14.2,15.2,14.1,7.6,13.2,4.2,13,10.2,13.3,11.2,13.3,11.1,12.4,9.1,12.6,8.4,12.4,13.5,12.5,7,11.7,7.3,12,9.8,11.6,13.3,11.7,5.2,11,5.9,11.1,7.2,11.2,7.7,11,10.1,11,10.9,11.2,4.9,10.4,5.5,10.4,7,10.3,7.7,10.4,8.2,10.3,5.5,9.7,5.9,9.6,9,9.6,11.3,9,4.6,9.1,5.8,8.8,3.3,7.8,4.7,8.1,6.2,7.8,12.5,8.3,13,7.6,.4,6.6,1.2,6.6,4.1,5.8,3.9,5.6,15,6.2,11.6,6.1,16.1,5.1,13.8,4.3,11.8,3.9,4.2,3.9,5.1,3.6,18.7,2.9,18,2.3,3,2.7,3.6,2.7,13.6,2.3];

const cells_7_4 = [[0,0,[9]]];
const contours_7_4 = [
  [0,7.6,.5,7.6,1,5.6,.8,4.4,1.2,3.5,1.3,1.4,3.8,.8,4.5,.5,4.5,0],
  [0,2.6,.5,2.6,1.2,1.4,2,.6,2,0],
  [5.8,0,5.8,.6,6.4,.9,7,.6,7,0],
];
const points_7_4 = [.2,18.6,.1,16.8,.2,15,.1,13.2,.2,11.6,.1,9.8];
const cells_7_5 = [[0,0,[9]]];
const contours_7_5 = [[0,4.3,.5,4.3,.8,3.5,1,2.2,1.5,0]];
const points_7_5 = [.1,17.5,.1,15.2,.2,13,.1,10.6,.1,8.4];
const cells_7_6 = [[0,0,[9]]];
const contours_7_6 = [[0,4.3,.5,4.3,.8,3.5,1,2.2,1.5,0]];
const points_7_6 = [.1,17.5,.1,15.2,.2,13,.1,10.6,.1,8.4];

const panelData = {
  "1_0": { cells: cells_1_0, contours: contours_1_0, points: points_1_0 },
  "2_0": { cells: cells_2_0, contours: contours_2_0, points: points_2_0 },
  "2_1": { cells: cells_2_1, contours: contours_2_1, points: points_2_1 },
  "3_0": { cells: cells_3_0, contours: contours_3_0, points: points_3_0 },
  "3_1": { cells: cells_3_1, contours: contours_3_1, points: points_3_1 },
  "3_2": { cells: cells_3_2, contours: contours_3_2, points: points_3_2 },
  "4_0": { cells: cells_4_0, contours: contours_4_0, points: points_4_0 },
  "4_1": { cells: cells_4_1, contours: contours_4_1, points: points_4_1 },
  "4_2": { cells: cells_4_2, contours: contours_4_2, points: points_4_2 },
  "4_3": { cells: cells_4_3, contours: contours_4_3, points: points_4_3 },
  "5_0": { cells: cells_5_0, contours: contours_5_0, points: points_5_0 },
  "5_1": { cells: cells_5_1, contours: contours_5_1, points: points_5_1 },
  "5_2": { cells: cells_5_2, contours: contours_5_2, points: points_5_2 },
  "5_3": { cells: cells_5_3, contours: contours_5_3, points: points_5_3 },
  "5_4": { cells: cells_5_4, contours: contours_5_4, points: points_5_4 },
  "6_0": { cells: cells_5_0, contours: contours_5_0, points: points_5_0 },
  "6_1": { cells: cells_5_1, contours: contours_5_1, points: points_5_1 },
  "6_2": { cells: cells_5_2, contours: contours_5_2, points: points_5_2 },
  "6_3": { cells: cells_5_3, contours: contours_5_3, points: points_5_3 },
  "6_4": { cells: cells_5_4, contours: contours_5_4, points: points_5_4 },
  "6_5": { cells: cells_6_5, contours: [], points: points_6_5 },
  "7_0": { cells: cells_7_0, contours: contours_7_0, points: points_7_0 },
  "7_1": { cells: cells_7_1, contours: contours_7_1, points: points_7_1 },
  "7_2": { cells: cells_7_2, contours: contours_7_2, points: points_7_2 },
  "7_3": { cells: cells_7_3, contours: contours_7_3, points: points_7_3 },
  "7_4": { cells: cells_7_4, contours: contours_7_4, points: points_7_4 },
  "7_5": { cells: cells_7_5, contours: contours_7_5, points: points_7_5 },
  "7_6": { cells: cells_7_6, contours: contours_7_6, points: points_7_6 },
};

const figSize = 1809;
const marginLeft = 100.5;
const marginTop = 39.5;
const panelSize = 200;
const panelStep = 210;
const nBins = 20;
const tickLen = 4.86;
const tickPad = 4.86;
const lineW = 1.11;

const svg = d3
  .select("#chart")
  .append("svg")
  .attr("width", figSize)
  .attr("height", figSize)
  .style("display", "block");

svg.append("rect").attr("width", figSize).attr("height", figSize).attr("fill", "#fff");

const darkness = d3.scaleLinear().domain([0, 9]).range(["#ffffff", "#000000"]);

function xScaleFor(col) {
  const left = marginLeft + col * panelStep;
  return d3.scaleLinear().domain(ranges[col]).range([left, left + panelSize]);
}
function yScaleFor(row) {
  const top = marginTop + row * panelStep;
  return d3.scaleLinear().domain(ranges[row]).range([top + panelSize, top]);
}
// bin position -> parameter value
function binValue(param, b) {
  const r = ranges[param];
  return r[0] + (b / nBins) * (r[1] - r[0]);
}

function pairs(flat) {
  const out = [];
  for (let i = 0; i < flat.length; i += 2) out.push([flat[i], flat[i + 1]]);
  return out;
}

function drawHist(col) {
  const x = xScaleFor(col);
  const bottom = marginTop + col * panelStep + panelSize;
  const y = d3
    .scaleLinear()
    .domain([0, 1.1 * d3.max(hists[col])])
    .range([bottom, bottom - panelSize]);
  const pts = [[binValue(col, 0), 0]];
  hists[col].forEach((h, i) => {
    pts.push([binValue(col, i), h]);
    pts.push([binValue(col, i + 1), h]);
  });
  pts.push([binValue(col, nBins), 0]);
  const line = d3.line().x((d) => x(d[0])).y((d) => y(d[1]));
  svg
    .append("path")
    .attr("d", line(pts))
    .attr("fill", "none")
    .attr("stroke", "#000")
    .attr("stroke-width", 1.3)
    .attr("stroke-linejoin", "miter");
}

function drawPanel2d(row, col) {
  const data = panelData[row + "_" + col];
  if (!data) return;
  const x = xScaleFor(col);
  const y = yScaleFor(row);
  const g = svg.append("g");

  const cells = [];
  data.cells.forEach(([iy, first, vals]) => {
    vals.forEach((v, k) => cells.push({ ix: first + k, iy, v }));
  });
  g.selectAll("rect.cell")
    .data(cells)
    .join("rect")
    .attr("class", "cell")
    .attr("x", (d) => x(binValue(col, d.ix)))
    .attr("y", (d) => y(binValue(row, d.iy + 1)))
    .attr("width", (d) => x(binValue(col, d.ix + 1)) - x(binValue(col, d.ix)))
    .attr("height", (d) => y(binValue(row, d.iy)) - y(binValue(row, d.iy + 1)))
    .attr("fill", (d) => darkness(d.v))
    .attr("shape-rendering", "crispEdges");

  g.selectAll("circle")
    .data(pairs(data.points))
    .join("circle")
    .attr("cx", (d) => x(binValue(col, d[0])))
    .attr("cy", (d) => y(binValue(row, d[1])))
    .attr("r", 1.4)
    .attr("fill", "#000")
    .attr("opacity", 0.12);

  const line = d3
    .line()
    .x((d) => x(binValue(col, d[0])))
    .y((d) => y(binValue(row, d[1])));
  data.contours.forEach((flat) => {
    const pts = pairs(flat);
    const last = pts[pts.length - 1];
    const open = last[1] === 0 || last[0] === 0 || last[0] === nBins || pts.length < 3;
    g.append("path")
      .attr("d", line(pts) + (open ? "" : "Z"))
      .attr("fill", "none")
      .attr("stroke", "#000")
      .attr("stroke-width", 2)
      .attr("stroke-linejoin", "round");
  });
}

function drawFrame(row, col) {
  const x = xScaleFor(col);
  const top = marginTop + row * panelStep;
  const bottom = top + panelSize;

  const xAxis = d3
    .axisBottom(x)
    .tickValues(tickValues[col])
    .tickSize(tickLen)
    .tickFormat("")
    .offset(0);
  const gx = svg.append("g").attr("transform", `translate(0,${bottom})`).call(xAxis);
  gx.select(".domain").remove();
  gx.selectAll("line").attr("stroke", "#000").attr("stroke-width", lineW);

  if (row !== col) {
    const y = yScaleFor(row);
    const left = x.range()[0];
    const yAxis = d3
      .axisLeft(y)
      .tickValues(tickValues[row])
      .tickSize(tickLen)
      .tickFormat("")
      .offset(0);
    const gy = svg.append("g").attr("transform", `translate(${left},0)`).call(yAxis);
    gy.select(".domain").remove();
    gy.selectAll("line").attr("stroke", "#000").attr("stroke-width", lineW);
  }

  svg
    .append("rect")
    .attr("x", x.range()[0])
    .attr("y", top)
    .attr("width", panelSize)
    .attr("height", panelSize)
    .attr("fill", "none")
    .attr("stroke", "#000")
    .attr("stroke-width", lineW);
}

function drawTitle(col) {
  const left = marginLeft + col * panelStep;
  const cx = left + panelSize / 2;
  const base = marginTop + col * panelStep - 8;
  const g = svg.append("g");
  const main = g
    .append("text")
    .attr("y", base)
    .style("font-size", "16.67px")
    .text(names[col] + " = " + titleMedian[col]);
  const sup = g
    .append("text")
    .attr("y", base - 6.3)
    .style("font-size", "11.67px")
    .text("+" + titlePlus[col]);
  const sub = g
    .append("text")
    .attr("y", base + 4)
    .style("font-size", "11.67px")
    .text("\u2212" + titleMinus[col]);
  const mw = main.node().getComputedTextLength();
  const sw = Math.max(sup.node().getComputedTextLength(), sub.node().getComputedTextLength());
  const start = cx - (mw + sw) / 2;
  main.attr("x", start);
  sup.attr("x", start + mw);
  sub.attr("x", start + mw);
}

// rotated tick labels: x labels hang below the axis, y labels run down-left
// from their tick, both offsets
function rotatedLabel(label, px, py, side) {
  const t = svg
    .append("text")
    .attr("text-anchor", "middle")
    .attr("dy", "0.37em")
    .style("font-size", "13.89px")
    .text(label);
  const half = ((t.node().getComputedTextLength() + 10.6) * Math.SQRT1_2) / 2;
  const dist = tickLen + tickPad + half;
  const tx = side === "x" ? px - 2 : px - dist - 3.5;
  const ty = side === "x" ? py + dist - 1.5 : py + half - 3;
  t.attr("transform", `translate(${tx},${ty}) rotate(-45)`);
}

function drawLabels() {
  const bottom = marginTop + 7 * panelStep + panelSize;
  names.forEach((name, col) => {
    const x = xScaleFor(col);
    tickValues[col].forEach((v, i) => rotatedLabel(tickLabels[col][i], x(v), bottom, "x"));
    svg
      .append("text")
      .attr("x", x.range()[0] + panelSize / 2)
      .attr("y", bottom + 71)
      .attr("text-anchor", "middle")
      .style("font-size", "13.89px")
      .text(name);
  });
  names.forEach((name, row) => {
    if (row === 0) return;
    const y = yScaleFor(row);
    tickValues[row].forEach((v, i) => rotatedLabel(tickLabels[row][i], marginLeft, y(v), "y"));
    const cy = marginTop + row * panelStep + panelSize / 2;
    svg
      .append("text")
      .attr("transform", `translate(37.5,${cy}) rotate(-90)`)
      .attr("text-anchor", "middle")
      .style("font-size", "13.89px")
      .text(name);
  });
}

for (let row = 0; row < names.length; row++) {
  for (let col = 0; col <= row; col++) {
    if (row === col) drawHist(col);
    else drawPanel2d(row, col);
    drawFrame(row, col);
  }
  drawTitle(row);
}
drawLabels();
</script>
</body>
</html>
